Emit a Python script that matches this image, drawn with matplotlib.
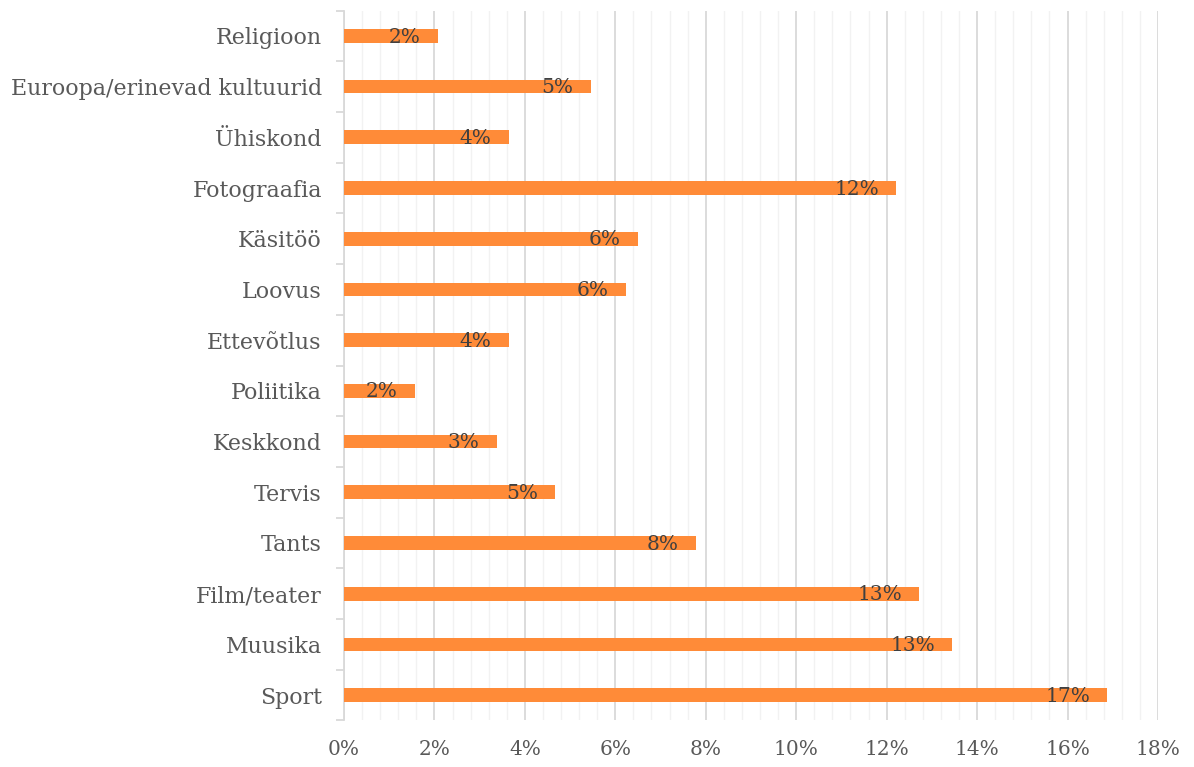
import numpy as np
import matplotlib
matplotlib.use("Agg")
import matplotlib.pyplot as plt
from matplotlib.ticker import MultipleLocator, FuncFormatter

# categories listed bottom to top
categories = ["Sport", "Muusika", "Film/teater", "Tants", "Tervis", "Keskkond",
              "Poliitika", "Ettevõtlus", "Loovus", "Käsitöö", "Fotograafia",
              "Ühiskond", "Euroopa/erinevad kultuurid", "Religioon"]
values = [16.88, 13.45, 12.72, 7.79, 4.67, 3.38, 1.57, 3.65, 6.24, 6.5, 12.21,
          3.65, 5.46, 2.08]

plt.rcParams['font.family'] = ['DejaVu Serif']

fig = plt.figure(figsize=(11.94, 7.67), dpi=100)
ax = fig.add_axes([0.2881, 0.0607, 0.9698 - 0.2881, 0.9862 - 0.0607])

y = np.arange(len(categories))
ax.barh(y, values, height=0.27, color='#FF8B38', zorder=3)

for yi, v in zip(y, values):
    ax.annotate("%d%%" % round(v), xy=(v, yi), xytext=(-12.5, -0.8),
                textcoords='offset points', ha='right', va='center',
                fontsize=14.5, color='#404040', zorder=4)

ax.set_xlim(0, 18)
ax.set_ylim(-0.5, len(categories) - 0.5)

ax.xaxis.set_major_locator(MultipleLocator(2))
ax.xaxis.set_minor_locator(MultipleLocator(0.4))
ax.xaxis.set_major_formatter(FuncFormatter(lambda x, p: "%d%%" % round(x)))
ax.grid(which='major', axis='x', color='#D9D9D9', linewidth=1.3, zorder=0)
ax.grid(which='minor', axis='x', color='#F2F2F2', linewidth=1.0, zorder=0)

ax.set_yticks(y)
ax.set_yticklabels(categories)
ax.set_yticks(np.arange(-0.5, len(categories), 1.0), minor=True)
ax.tick_params(axis='y', which='major', length=0, pad=16, labelsize=15.9,
               labelcolor='#595959')
ax.tick_params(axis='y', which='minor', length=6, color='#D9D9D9', width=1.3)
ax.tick_params(axis='x', which='both', length=0, pad=14, labelsize=14.5,
               labelcolor='#595959')

for s in ['top', 'right', 'bottom']:
    ax.spines[s].set_visible(False)
ax.spines['left'].set_color('#D9D9D9')
ax.spines['left'].set_linewidth(1.3)

fig.savefig("out.png", dpi=100)
